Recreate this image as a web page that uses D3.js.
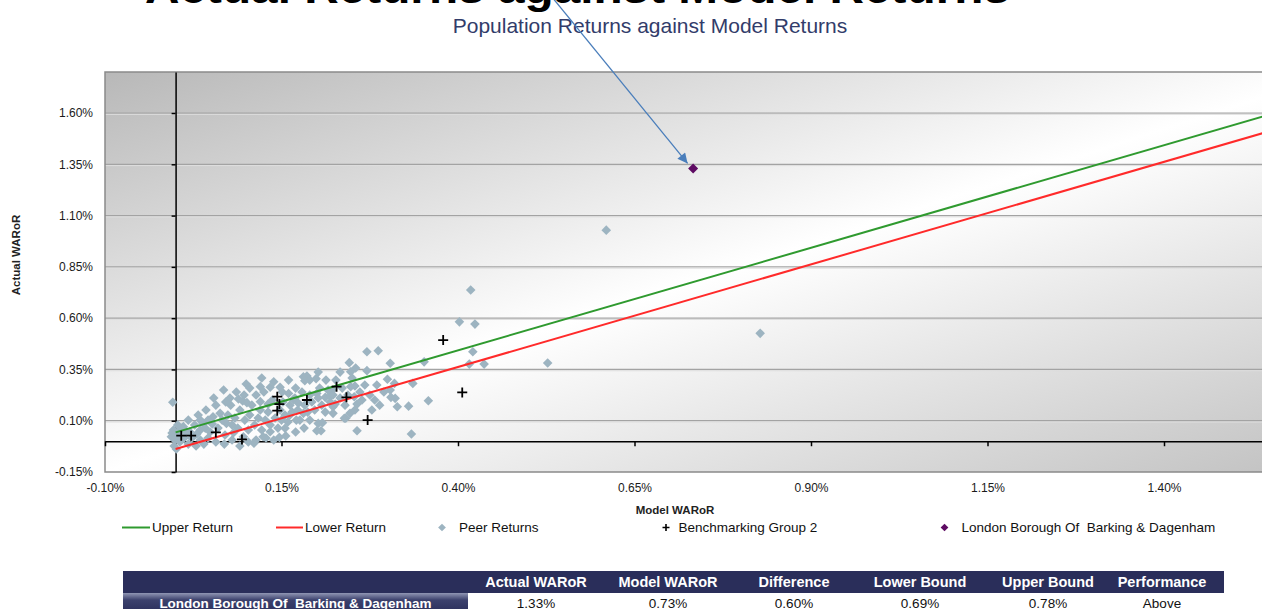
<!DOCTYPE html>
<html><head><meta charset="utf-8">
<script src="https://cdn.jsdelivr.net/npm/d3@7"></script>
<style>
body{margin:0;background:#fff;}
svg{display:block;font-family:"Liberation Sans",Arial,sans-serif;}
text{white-space:pre;}
</style>
</head><body>
<svg id="c" width="1262" height="609"></svg>
<script>
// ---------------- data ----------------
const chartTitle = "Actual Returns against Model Returns";
const chartSubtitle = "Population Returns against Model Returns";
const xAxisTitle = "Model WARoR";
const yAxisTitle = "Actual WARoR";
const xTicks = [-0.10, 0.15, 0.40, 0.65, 0.90, 1.15, 1.40];
const yTicks = [-0.15, 0.10, 0.35, 0.60, 0.85, 1.10, 1.35, 1.60];
const xDomain = [-0.10, 1.65];
const yDomain = [-0.15, 1.80];
const lineModel = [0.00, 1.65];
const upperReturn = [0.043, 1.693];
const lowerReturn = [-0.038, 1.612];
const peerReturns = [
 [0.418,0.737],[0.402,0.582],[0.424,0.571],[0.271,0.436],[0.287,0.441],[0.246,0.383],[0.248,0.339],
 [0.271,0.344],[0.304,0.380],[0.352,0.387],[0.421,0.436],[0.416,0.376],[0.437,0.376],[0.300,0.302],
 [0.310,0.282],[0.336,0.282],[0.285,0.274],[0.181,0.314],[0.186,0.318],[0.190,0.298],[0.199,0.305],
 [0.160,0.298],[0.183,0.295],[0.120,0.266],[0.134,0.263],[0.139,0.290],[0.148,0.263],[0.068,0.250],
 [0.089,0.206],[0.095,0.196],[0.078,0.176],[0.101,0.188],[0.120,0.193],[0.131,0.181],[0.160,0.233],
 [0.167,0.204],[0.174,0.185],[0.200,0.233],[0.212,0.214],[0.219,0.220],[0.226,0.181],[0.223,0.168],
 [0.248,0.266],[0.254,0.269],[0.253,0.217],[0.257,0.181],[0.247,0.136],[0.304,0.250],[0.305,0.214],
 [0.311,0.209],[0.314,0.168],[0.330,0.171],[0.358,0.197],[0.241,0.112],[0.257,0.051],[0.334,0.035],
 [0.181,0.136],[0.190,0.103],[0.202,0.087],[0.200,0.051],[0.162,0.128],[0.171,0.103],[0.150,0.103],
 [0.155,0.063],[0.147,0.019],[0.134,0.046],[0.124,0.022],[0.111,-0.010],[0.096,0.022],[0.082,0.041],
 [0.072,0.087],[0.063,0.136],[0.053,0.119],[0.046,0.103],[0.039,0.087],[0.035,0.055],[0.030,0.035],
 [0.020,0.046],[0.011,0.071],[0.006,0.046],[-0.003,0.055],[-0.006,0.022],[-0.001,0.006],[-0.004,0.190],
 [0.610,1.029],[0.828,0.526],[0.527,0.381],
 [0.222,0.250],[0.208,0.090],[0.206,0.051],[0.223,0.136],[0.239,0.112],
 [0.027,0.079],[0.035,0.103],[0.042,0.064],[0.049,0.045],[0.052,0.084],[0.060,0.064],[0.066,0.103],
 [0.070,0.030],[0.074,0.128],[0.080,0.079],[0.084,0.113],[0.088,0.064],[0.091,0.152],[0.098,0.103],
 [0.103,0.055],[0.105,0.128],[0.108,0.176],[0.112,0.079],[0.117,0.113],[0.120,0.152],[0.122,0.055],
 [0.127,0.103],[0.131,0.142],[0.134,0.079],[0.137,0.201],[0.141,0.113],[0.145,0.064],[0.148,0.152],
 [0.152,0.191],[0.155,0.128],[0.159,0.094],[0.162,0.176],[0.165,0.142],[0.169,0.211],[0.173,0.152],
 [0.176,0.103],[0.179,0.240],[0.183,0.176],[0.187,0.142],[0.190,0.225],[0.193,0.191],[0.197,0.152],
 [0.202,0.211],[0.204,0.259],[0.207,0.176],[0.212,0.142],[0.216,0.249],[0.219,0.191],[0.223,0.225],
 [0.227,0.298],[0.233,0.211],[0.236,0.259],[0.240,0.176],[0.244,0.225],[0.250,0.308],[0.254,0.152],
 [0.261,0.240],[0.264,0.201],[0.268,0.274],[0.275,0.225],[0.278,0.152],[0.282,0.201],[0.289,0.176],
 [0.295,0.240],[0.077,0.211],[0.086,0.240],[0.097,0.225],[0.105,0.259],[0.114,0.225],[0.125,0.240],
 [0.057,0.176],[0.043,0.152],[0.032,0.128],[0.018,0.103],[0.015,0.045],[0.023,0.016],[0.035,0.006],
 [0.046,0.016],[0.057,-0.004],[0.069,-0.014],[0.080,0.006],[0.091,-0.023],[0.103,-0.004],[0.114,0.006],
 [0.128,0.016],[0.139,0.006],[0.156,0.026],[0.170,0.045],[0.182,0.064],[0.054,0.211],[0.071,0.191],
 [0.100,0.279],[0.122,0.308],[0.151,0.240],[0.170,0.259],[0.213,0.298],[0.202,0.337],[0.233,0.337],
 [0.255,0.357],[0.009,0.064],[0.003,0.079],[0.002,0.040],[0.012,0.016],[0.006,-0.004],[0.018,-0.014],
 [0.029,-0.023],[0.040,-0.014],[-0.002,-0.023],[0.001,-0.038],[0.004,0.030],[-0.005,0.040]
];
const benchmarkGroup2 = [
 [0.008,0.027],[0.022,0.027],[0.057,0.043],[0.094,0.009],[0.144,0.217],[0.147,0.181],[0.144,0.149],
 [0.186,0.201],[0.228,0.266],[0.242,0.214],[0.272,0.103],[0.379,0.493],[0.406,0.238]
];
const londonBorough = [[0.733,1.33]];
const seriesNames = ["Upper Return","Lower Return","Peer Returns","Benchmarking Group 2","London Borough Of  Barking & Dagenham"];
const tableHeaders = ["Actual WARoR","Model WARoR","Difference","Lower Bound","Upper Bound","Performance"];
const tableRowLabel = "London Borough Of  Barking & Dagenham";
const tableValues = ["1.33%","0.73%","0.60%","0.69%","0.78%","Above"];

// ---------------- layout ----------------
const svg = d3.select("#c");
const PL = 105, PT = 72, PB = 472, PR = 1340.5;
const x = d3.scaleLinear().domain(xDomain).range([PL, PR]);
const y = d3.scaleLinear().domain(yDomain).range([PB, PT]);
const fmt = d => d.toFixed(2) + "%";

const defs = svg.append("defs");
const bg = defs.append("linearGradient").attr("id","bg").attr("x1",0).attr("y1",0).attr("x2",1).attr("y2",1);
bg.append("stop").attr("offset","0").attr("stop-color","#b8b8b8");
bg.append("stop").attr("offset","0.5").attr("stop-color","#ffffff");
bg.append("stop").attr("offset","1").attr("stop-color","#c0c0c0");
const cg = defs.append("linearGradient").attr("id","cellg").attr("x1",0).attr("y1",0).attr("x2",0).attr("y2",1);
cg.append("stop").attr("offset","0").attr("stop-color","#9096b4");
cg.append("stop").attr("offset","0.35").attr("stop-color","#3c416d");
cg.append("stop").attr("offset","1").attr("stop-color","#2a2e5a");
defs.append("clipPath").attr("id","plotclip").append("rect")
  .attr("x",PL).attr("y",PT).attr("width",PR-PL).attr("height",PB-PT);
defs.append("marker").attr("id","arrowhead").attr("viewBox","0 0 10 10")
  .attr("refX",10).attr("refY",5).attr("markerWidth",13).attr("markerHeight",10)
  .attr("markerUnits","userSpaceOnUse").attr("orient","auto")
  .append("path").attr("d","M0,0L10,5L0,10Z").attr("fill","#4a7ebb");

// titles (main title is cropped at the top edge in the reference)
svg.append("text").attr("x",145).attr("y",3).attr("textLength",865).attr("lengthAdjust","spacingAndGlyphs")
  .attr("font-size",44).attr("font-weight","bold").attr("fill","#000").text(chartTitle);
svg.append("text").attr("x",650).attr("y",33).attr("text-anchor","middle")
  .attr("font-size",21).attr("fill","#323c6a").text(chartSubtitle);

// plot background
svg.append("rect").attr("x",PL).attr("y",PT).attr("width",PR-PL).attr("height",PB-PT).attr("fill","url(#bg)");

// gridlines
const grid = svg.append("g");
yTicks.filter(t => t > yDomain[0]).forEach(t => {
  grid.append("line").attr("x1",PL).attr("x2",PR).attr("y1",y(t)).attr("y2",y(t))
    .attr("stroke","#a3a3a3").attr("stroke-width",1.3);
  grid.append("line").attr("x1",PL).attr("x2",PR).attr("y1",y(t)+1.3).attr("y2",y(t)+1.3)
    .attr("stroke","#dedede").attr("stroke-width",1);
});
svg.append("rect").attr("x",PL).attr("y",PT).attr("width",PR-PL).attr("height",PB-PT)
  .attr("fill","none").attr("stroke","#8a8a8a").attr("stroke-width",1.5);

// axis lines with ticks
const yAxisLine = svg.append("g").attr("transform",`translate(${x(0)},0)`)
  .call(d3.axisLeft(y).tickValues(yTicks).tickSize(4).tickSizeOuter(0).tickFormat(""));
yAxisLine.selectAll("path,line").attr("stroke","#000").attr("stroke-width",1.5);
const xAxisLine = svg.append("g").attr("transform",`translate(0,${y(0)})`)
  .call(d3.axisBottom(x).tickValues(xTicks).tickSize(5).tickSizeOuter(0).tickFormat(""));
xAxisLine.selectAll("path,line").attr("stroke","#000").attr("stroke-width",1.5);

// tick labels
const yLab = svg.append("g").attr("transform",`translate(${PL},0)`)
  .call(d3.axisLeft(y).tickValues(yTicks).tickSize(0).tickPadding(12).tickFormat(fmt));
yLab.select(".domain").remove();
yLab.selectAll("text").attr("font-size",12).attr("font-family","Liberation Sans, Arial, sans-serif").attr("fill","#1a1a1a");
const xLab = svg.append("g").attr("transform",`translate(0,${PB})`)
  .call(d3.axisBottom(x).tickValues(xTicks).tickSize(0).tickPadding(11).tickFormat(fmt));
xLab.select(".domain").remove();
xLab.selectAll("text").attr("font-size",12).attr("font-family","Liberation Sans, Arial, sans-serif").attr("fill","#1a1a1a");

// axis titles
svg.append("text").attr("transform","translate(20,255) rotate(-90)").attr("text-anchor","middle")
  .attr("font-size",11.5).attr("font-weight","bold").attr("fill","#222").text(yAxisTitle);
svg.append("text").attr("x",675).attr("y",514).attr("text-anchor","middle")
  .attr("font-size",11.5).attr("font-weight","bold").attr("fill","#222").text(xAxisTitle);

// series
const plot = svg.append("g").attr("clip-path","url(#plotclip)");
const line = d3.line().x(d => x(d[0])).y(d => y(d[1]));
const diamond = d3.symbol().type(d3.symbolSquare).size(46);
plot.selectAll(".peer").data(peerReturns).join("path")
  .attr("transform", d => `translate(${x(d[0])},${y(d[1])}) rotate(45)`)
  .attr("d", diamond()).attr("fill","#9db4c1");
plot.append("path").datum(lineModel.map((m,i) => [m, upperReturn[i]]))
  .attr("d", line).attr("fill","none").attr("stroke","#2f9a2f").attr("stroke-width",2);
plot.append("path").datum(lineModel.map((m,i) => [m, lowerReturn[i]]))
  .attr("d", line).attr("fill","none").attr("stroke","#ff2a2a").attr("stroke-width",2);
const plus = "M-5,0H5M0,-5V5";
plot.selectAll(".bench").data(benchmarkGroup2).join("path")
  .attr("transform", d => `translate(${x(d[0])},${y(d[1])})`)
  .attr("d", plus).attr("stroke","#000").attr("stroke-width",1.8);
plot.selectAll(".lon").data(londonBorough).join("path")
  .attr("transform", d => `translate(${x(d[0])},${y(d[1])}) rotate(45)`)
  .attr("d", d3.symbol().type(d3.symbolSquare).size(50)()).attr("fill","#5e0b63");

// arrow annotation
const tipX = x(londonBorough[0][0]) - 5.5, tipY = y(londonBorough[0][1]) - 5;
svg.append("line").attr("x1", tipX - 134).attr("y1", -1).attr("x2", tipX).attr("y2", tipY)
  .attr("stroke","#4a7ebb").attr("stroke-width",1.3).attr("marker-end","url(#arrowhead)");

// legend
const lg = svg.append("g").attr("font-size",13.5).attr("fill","#111");
const LY = 527.5;
lg.append("line").attr("x1",122).attr("x2",150).attr("y1",LY).attr("y2",LY).attr("stroke","#2f9a2f").attr("stroke-width",2);
lg.append("text").attr("x",152).attr("y",LY+4.5).text(seriesNames[0]);
lg.append("line").attr("x1",276).attr("x2",303).attr("y1",LY).attr("y2",LY).attr("stroke","#ff2a2a").attr("stroke-width",2);
lg.append("text").attr("x",305).attr("y",LY+4.5).text(seriesNames[1]);
lg.append("path").attr("transform",`translate(442,${LY}) rotate(45)`).attr("d",d3.symbol().type(d3.symbolSquare).size(30)()).attr("fill","#9db4c1");
lg.append("text").attr("x",459).attr("y",LY+4.5).text(seriesNames[2]);
lg.append("path").attr("transform",`translate(666,${LY})`).attr("d","M-3.5,0H3.5M0,-3.5V3.5").attr("stroke","#000").attr("stroke-width",1.6);
lg.append("text").attr("x",678.5).attr("y",LY+4.5).text(seriesNames[3]);
lg.append("path").attr("transform",`translate(944.5,${LY}) rotate(45)`).attr("d",d3.symbol().type(d3.symbolSquare).size(30)()).attr("fill","#5e0b63");
lg.append("text").attr("x",961.5).attr("y",LY+4.5).text(seriesNames[4]);

// table
const colX = [536, 668, 794, 920, 1048, 1162];
const tb = svg.append("g");
tb.append("rect").attr("x",123).attr("y",571).attr("width",1101).attr("height",22).attr("fill","#2a2e5a");
tb.append("rect").attr("x",123).attr("y",593).attr("width",345).attr("height",20).attr("fill","url(#cellg)");
tb.selectAll(".th").data(tableHeaders).join("text")
  .attr("x",(d,i) => colX[i]).attr("y",586.5).attr("text-anchor","middle")
  .attr("font-size",14.5).attr("font-weight","bold").attr("fill","#fff").text(d => d);
tb.append("text").attr("x",295.5).attr("y",607.5).attr("text-anchor","middle")
  .attr("font-size",13.5).attr("font-weight","bold").attr("fill","#fff").text(tableRowLabel);
tb.selectAll(".tv").data(tableValues).join("text")
  .attr("x",(d,i) => colX[i]).attr("y",607.5).attr("text-anchor","middle")
  .attr("font-size",13.5).attr("fill","#111").text(d => d);
</script>
</body></html>
